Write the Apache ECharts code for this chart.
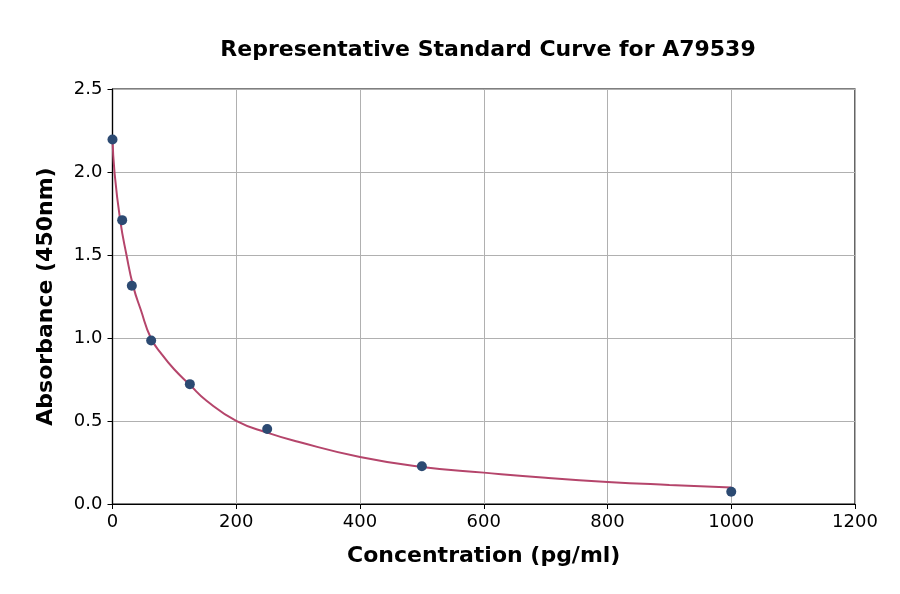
<!DOCTYPE html>
<html>
<head>
<meta charset="utf-8">
<script src="https://cdn.jsdelivr.net/npm/echarts@6/dist/echarts.min.js"></script>
<style>html,body{margin:0;padding:0;background:#fff}#c{width:900px;height:594px}</style>
</head>
<body>
<div id="c"></div>
<script>
const titleText = "Representative Standard Curve for A79539";
const xName = "Concentration (pg/ml)";
const yName = "Absorbance (450nm)";
const pointX = [0, 15.625, 31.25, 62.5, 125, 250, 500, 1000];
const pointY = [2.196, 1.71, 1.315, 0.985, 0.722, 0.452, 0.227, 0.074];
const curveX = [0, 3.2, 12.4, 22.6, 33.3, 45.7, 62, 80, 100, 125, 152, 200, 250, 300, 400, 500, 600, 700, 800, 900, 1000];
const curveY = [2.2, 2.0, 1.71, 1.5, 1.314, 1.17, 1.0, 0.9, 0.81, 0.718, 0.622, 0.501, 0.43, 0.375, 0.283, 0.223, 0.189, 0.158, 0.133, 0.115, 0.100];

const chart = echarts.init(document.getElementById('c'));
const font = "DejaVu Sans";
chart.setOption({
  animation: false,
  backgroundColor: '#fff',
  title: {
    text: titleText, left: 483, top: 34, textAlign: 'center',
    textStyle: {fontFamily: font, fontWeight: 'bold', fontSize: 22, color: '#000'}
  },
  grid: {left: 112.5, right: 45, top: 89, bottom: 90, show: true, borderColor: '#000', borderWidth: 1.2, backgroundColor: 'transparent'},
  xAxis: {
    type: 'value', min: 0, max: 1200, interval: 200,
    name: xName, nameLocation: 'middle', nameGap: 41,
    nameTextStyle: {fontFamily: font, fontWeight: 'bold', fontSize: 22, color: '#000'},
    axisLine: {show: true, lineStyle: {color: '#000', width: 1.2}},
    axisTick: {show: true, inside: false, length: 5, lineStyle: {color: '#000'}},
    axisLabel: {fontFamily: font, fontSize: 18, color: '#000', margin: 9, formatter: v => String(v)},
    splitLine: {show: true, lineStyle: {color: '#b0b0b0', width: 1}}
  },
  yAxis: {
    type: 'value', min: 0, max: 2.5, interval: 0.5,
    name: yName, nameLocation: 'middle', nameGap: 55,
    nameTextStyle: {fontFamily: font, fontWeight: 'bold', fontSize: 22, color: '#000'},
    axisLine: {show: true, lineStyle: {color: '#000', width: 1.2}},
    axisTick: {show: true, inside: false, length: 5, lineStyle: {color: '#000'}},
    axisLabel: {fontFamily: font, fontSize: 18, color: '#000', margin: 10, formatter: v => v.toFixed(1)},
    splitLine: {show: true, lineStyle: {color: '#b0b0b0', width: 1}}
  },
  series: [
    {
      type: 'line', data: curveX.map((x, i) => [x, curveY[i]]),
      smooth: 0.5, showSymbol: false, symbol: 'none',
      lineStyle: {color: '#b5456b', width: 2}, z: 2
    },
    {
      type: 'scatter', data: pointX.map((x, i) => [x, pointY[i]]),
      symbolSize: 10, itemStyle: {color: '#2c4a72', opacity: 1}, z: 3
    }
  ]
});
</script>
</body>
</html>
